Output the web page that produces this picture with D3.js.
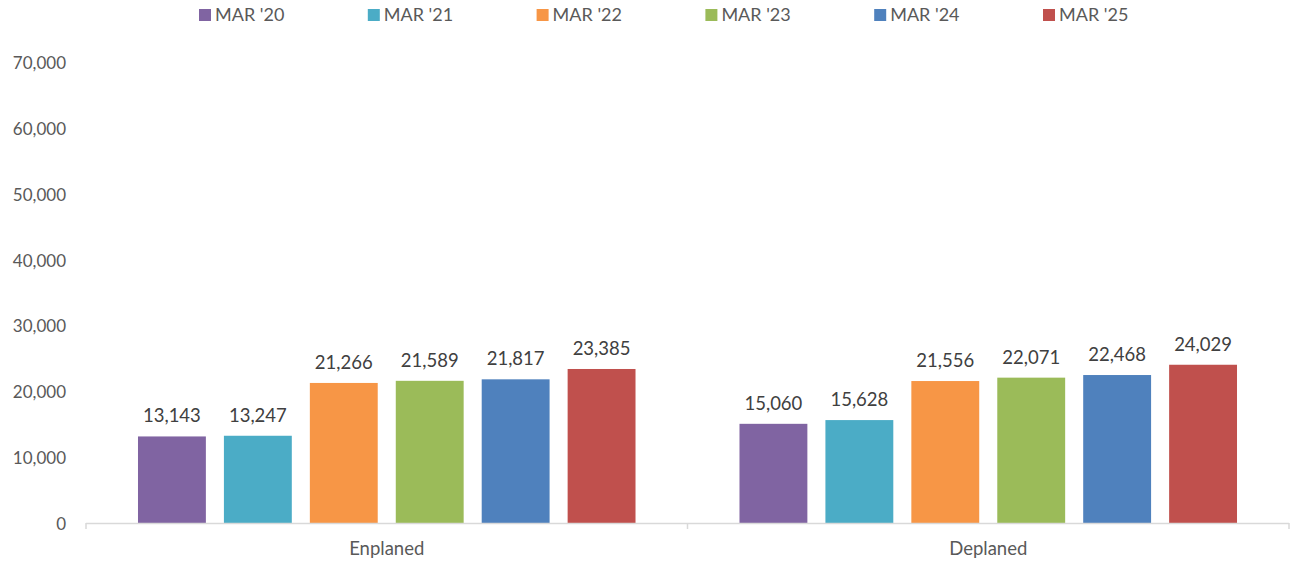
<html>
<head>
    <style>
        body { margin: 0; background: #fff; }
        text { font-family: Lato, "Open Sans", sans-serif; }
    </style>
    <script src="https://cdn.jsdelivr.net/npm/d3@7"></script>
</head>
<body>
    <svg id="container" width="1293" height="566"></svg>
</body>
<script>
    // data
    let categories = ["Enplaned", "Deplaned"]
    let seriesNames = ["MAR '20", "MAR '21", "MAR '22", "MAR '23", "MAR '24", "MAR '25"]
    let seriesColors = ["#8064A2", "#4BACC6", "#F79646", "#9BBB59", "#4F81BD", "#C0504D"]
    let enplaned = [13143, 13247, 21266, 21589, 21817, 23385]
    let deplaned = [15060, 15628, 21556, 22071, 22468, 24029]
    let yTicks = [0, 10000, 20000, 30000, 40000, 50000, 60000, 70000]

    let values = [enplaned, deplaned]

    let svg = d3.select("#container")
    let plotLeft = 86, plotRight = 1289, plotTop = 62, plotBottom = 523

    let x0 = d3.scaleBand()
        .domain(categories)
        .range([plotLeft, plotRight])

    let x1 = d3.scaleBand()
        .domain(seriesNames)
        .range([0, x0.bandwidth()])
        .paddingInner(0.21)
        .paddingOuter(0.605)

    let y = d3.scaleLinear()
        .domain([0, 70000])
        .range([plotBottom, plotTop])

    // y tick labels (no axis line in the original)
    svg.append("g")
        .selectAll("text")
        .data(yTicks)
        .enter().append("text")
        .attr("x", 66)
        .attr("y", d => y(d) + 1)
        .attr("dy", "0.35em")
        .attr("text-anchor", "end")
        .attr("font-size", 17)
        .attr("fill", "#595959")
        .text(d => d3.format(",")(d))

    // bars
    let groups = svg.append("g")
        .selectAll("g")
        .data(categories)
        .enter().append("g")
        .attr("transform", d => `translate(${x0(d)},0)`)

    groups.selectAll("rect")
        .data((c, i) => values[i].map((v, j) => ({name: seriesNames[j], value: v, color: seriesColors[j]})))
        .enter().append("rect")
        .attr("x", d => x1(d.name))
        .attr("width", x1.bandwidth())
        .attr("y", d => y(d.value))
        .attr("height", d => y(0) - y(d.value))
        .attr("fill", d => d.color)

    groups.selectAll("text.val")
        .data((c, i) => values[i].map((v, j) => ({name: seriesNames[j], value: v})))
        .enter().append("text")
        .attr("class", "val")
        .attr("x", d => x1(d.name) + x1.bandwidth() / 2)
        .attr("y", d => y(d.value) - 14)
        .attr("text-anchor", "middle")
        .attr("font-size", 18.5)
        .attr("fill", "#404040")
        .text(d => d3.format(",")(d.value))

    // x axis
    let xAxis = svg.append("g")
    xAxis.append("line")
        .attr("x1", plotLeft).attr("x2", plotRight)
        .attr("y1", plotBottom + 0.5).attr("y2", plotBottom + 0.5)
        .attr("stroke", "#d9d9d9")
        .attr("stroke-width", 1.5)
    let tickPos = categories.map(c => x0(c)).concat([plotRight])
    xAxis.selectAll("line.tick")
        .data(tickPos)
        .enter().append("line")
        .attr("class", "tick")
        .attr("x1", d => d).attr("x2", d => d)
        .attr("y1", plotBottom).attr("y2", plotBottom + 6)
        .attr("stroke", "#d9d9d9")
        .attr("stroke-width", 1.5)
    xAxis.selectAll("text")
        .data(categories)
        .enter().append("text")
        .attr("x", d => x0(d) + x0.bandwidth() / 2)
        .attr("y", 555)
        .attr("text-anchor", "middle")
        .attr("font-size", 18.5)
        .attr("fill", "#595959")
        .text(d => d)

    // legend
    let legend = svg.append("g")
        .selectAll("g")
        .data(seriesNames)
        .enter().append("g")
        .attr("transform", (d, i) => `translate(${199 + i * 168.8},0)`)
    legend.append("rect")
        .attr("x", 0).attr("y", 9)
        .attr("width", 12).attr("height", 12)
        .attr("fill", (d, i) => seriesColors[i])
    legend.append("text")
        .attr("x", 16)
        .attr("y", 15)
        .attr("dy", "0.35em")
        .attr("font-size", 18)
        .attr("fill", "#595959")
        .text(d => d)
</script>
</html>
